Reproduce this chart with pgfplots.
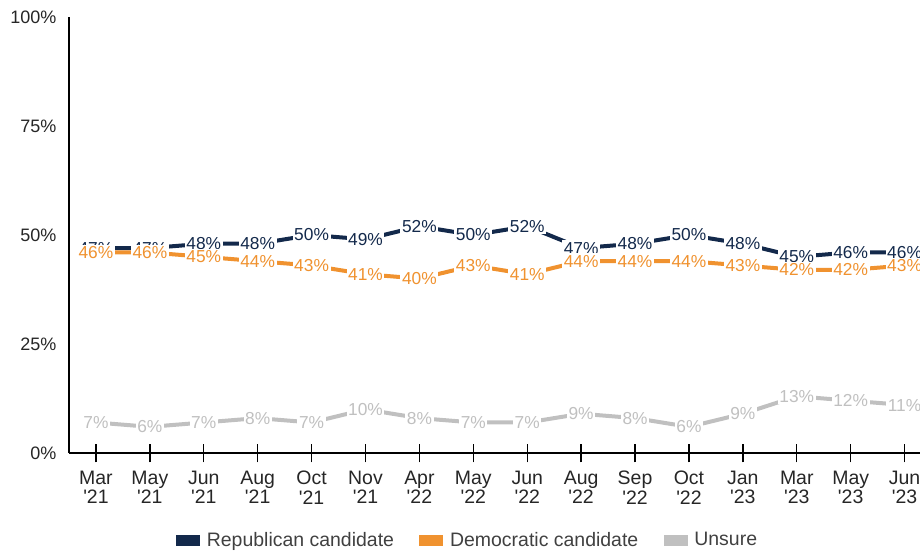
\documentclass[border=0pt]{standalone}
\usepackage{fontspec}
\setmainfont{Liberation Sans}
\usepackage{pgfplots}
\usepackage{pgfplotstable}
\pgfplotsset{compat=1.18}

\definecolor{rep}{HTML}{13294B}
\definecolor{dem}{HTML}{F0922F}
\definecolor{uns}{HTML}{C0C0C0}
\definecolor{txt}{HTML}{262626}
\definecolor{legtxt}{HTML}{404040}

\pgfplotstableread{
x rep dem uns
0  47 46 7
1  47 46 6
2  48 45 7
3  48 44 8
4  50 43 7
5  49 41 10
6  52 40 8
7  50 43 7
8  52 41 7
9  47 44 9
10 48 44 8
11 50 44 6
12 48 43 9
13 45 42 13
14 46 42 12
15 46 43 11
}\data

\begin{document}
\begin{tikzpicture}
\begin{axis}[
    at={(51.75pt,78pt)}, anchor=south west,
    scale only axis,
    width=638pt, height=327pt,
    xmin=-0.5, xmax=15.28,
    ymin=0, ymax=100,
    clip=false,
    axis x line*=bottom, axis y line*=left,
    axis line style={-, black, line width=1pt},
    xtick={0,...,15},
    xticklabels={{Mar\\\textquotesingle21},{May\\\textquotesingle21},{Jun\\\textquotesingle21},{Aug\\\textquotesingle21},{Oct\\\textquotesingle21},{Nov\\\textquotesingle21},{Apr\\\textquotesingle22},{May\\\textquotesingle22},{Jun\\\textquotesingle22},{Aug\\\textquotesingle22},{Sep\\\textquotesingle22},{Oct\\\textquotesingle22},{Jan\\\textquotesingle23},{Mar\\\textquotesingle23},{May\\\textquotesingle23},{Jun\\\textquotesingle23}},
    xticklabel style={align=center, font=\fontsize{14.6pt}{14.6pt}\selectfont, text=txt, yshift=-3pt},
    x tick style={black, line width=1pt},
    tick align=center,
    major tick length=14pt,
    ytick={0,25,50,75,100},
    yticklabels={0\%,25\%,50\%,75\%,100\%},
    yticklabel style={font=\fontsize{13.5pt}{16pt}\selectfont, text=txt, xshift=1pt},
    y tick style={draw=none},
    /pgf/number format/assume math mode=true,
    /pgf/number format/.cd, fixed, precision=0, /pgfplots/.cd,
    nodes near coords={\pgfmathprintnumber{\pgfplotspointmeta}\%},
    every node near coord/.append style={anchor=center, fill=white, inner sep=1.2pt, font=\fontsize{13pt}{16pt}\selectfont},
    legend columns=3,
    legend style={at={(0.469,-0.2)}, anchor=center, draw=none, fill=none,
        font=\fontsize{14.6pt}{16pt}\selectfont, text=legtxt,
        /tikz/every odd column/.append style={column sep=3pt},
        /tikz/every even column/.append style={column sep=17pt}},
    legend image code/.code={\fill[#1] (0pt,-2.6pt) rectangle (15pt,2.6pt);},
]
\addplot[rep, line width=3pt, every node near coord/.append style={text=rep}] table[x=x, y=rep] {\data};
\addlegendentry{Republican candidate}
\addplot[dem, line width=3pt, every node near coord/.append style={text=dem}] table[x=x, y=dem] {\data};
\addlegendentry{Democratic candidate}
\addplot[uns, line width=3pt, every node near coord/.append style={text=uns}] table[x=x, y=uns] {\data};
\addlegendentry{Unsure}
\end{axis}
\pgfresetboundingbox
\path[use as bounding box] (0,0) rectangle (690pt,417.75pt);
\end{tikzpicture}
\end{document}
